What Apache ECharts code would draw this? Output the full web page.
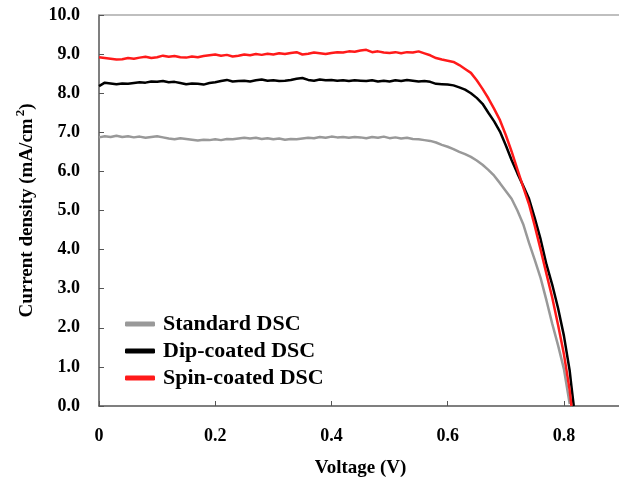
<!DOCTYPE html>
<html>
<head>
<meta charset="utf-8">
<script src="https://cdn.jsdelivr.net/npm/echarts@6/dist/echarts.min.js"></script>
<style>
  html, body { margin: 0; padding: 0; background: #fff; }
  #main { width: 619px; height: 478px; }
</style>
</head>
<body>
<div id="main"></div>
<script>
// voltage (V), shared by the three curves
const voltage = [
  0.00, 0.01, 0.02, 0.03, 0.04, 0.05, 0.06, 0.07, 0.08, 0.09,
  0.10, 0.11, 0.12, 0.13, 0.14, 0.15, 0.16, 0.17, 0.18, 0.19,
  0.20, 0.21, 0.22, 0.23, 0.24, 0.25, 0.26, 0.27, 0.28, 0.29,
  0.30, 0.31, 0.32, 0.33, 0.34, 0.35, 0.36, 0.37, 0.38, 0.39,
  0.40, 0.41, 0.42, 0.43, 0.44, 0.45, 0.46, 0.47, 0.48, 0.49,
  0.50, 0.51, 0.52, 0.53, 0.54, 0.55, 0.56, 0.57, 0.58, 0.59,
  0.60, 0.61, 0.62, 0.63, 0.64, 0.65, 0.66, 0.67, 0.68, 0.69,
  0.70, 0.71, 0.72, 0.73, 0.74, 0.75, 0.76, 0.77, 0.78, 0.79,
  0.80, 0.81, 0.813, 0.817
]

// current density (mA/cm2)
const standardDSC = [
  6.87, 6.90, 6.88, 6.91, 6.88, 6.90, 6.87, 6.89, 6.86, 6.88,
  6.90, 6.87, 6.84, 6.82, 6.85, 6.83, 6.81, 6.79, 6.81, 6.80,
  6.82, 6.80, 6.83, 6.82, 6.84, 6.86, 6.84, 6.86, 6.83, 6.85,
  6.82, 6.84, 6.81, 6.83, 6.82, 6.84, 6.86, 6.85, 6.88, 6.86,
  6.89, 6.87, 6.88, 6.86, 6.88, 6.87, 6.85, 6.88, 6.86, 6.89,
  6.85, 6.87, 6.84, 6.86, 6.83, 6.82, 6.80, 6.78, 6.74, 6.68,
  6.63, 6.57, 6.50, 6.44, 6.37, 6.28, 6.17, 6.04, 5.89, 5.70,
  5.50, 5.30, 5.00, 4.65, 4.17, 3.73, 3.27, 2.70, 2.10, 1.55,
  0.95, 0.05, null, null
]
const dipCoatedDSC = [
  8.18, 8.27, 8.25, 8.23, 8.25, 8.24, 8.26, 8.28, 8.27, 8.30,
  8.29, 8.31, 8.28, 8.29, 8.26, 8.23, 8.25, 8.24, 8.22, 8.26,
  8.28, 8.31, 8.34, 8.30, 8.31, 8.32, 8.30, 8.33, 8.35, 8.32,
  8.33, 8.31, 8.32, 8.34, 8.37, 8.39, 8.34, 8.32, 8.35, 8.33,
  8.34, 8.32, 8.33, 8.31, 8.33, 8.32, 8.31, 8.33, 8.30, 8.32,
  8.30, 8.33, 8.31, 8.34, 8.32, 8.30, 8.31, 8.29, 8.24, 8.23,
  8.22, 8.20, 8.15, 8.09, 8.00, 7.88, 7.73, 7.50, 7.28, 7.02,
  6.67, 6.29, 5.95, 5.63, 5.30, 4.80, 4.26, 3.62, 3.10, 2.50,
  1.80, 0.90, 0.50, 0.00
]
const spinCoatedDSC = [
  8.92, 8.90, 8.88, 8.86, 8.87, 8.90, 8.88, 8.91, 8.93, 8.90,
  8.92, 8.96, 8.93, 8.95, 8.92, 8.91, 8.94, 8.92, 8.95, 8.97,
  8.99, 8.96, 8.98, 8.94, 8.96, 8.99, 8.97, 9.00, 8.98, 9.01,
  8.99, 9.02, 9.00, 9.03, 9.05, 8.99, 9.01, 9.04, 9.02, 9.00,
  9.03, 9.05, 9.04, 9.07, 9.06, 9.09, 9.11, 9.05, 9.07, 9.04,
  9.03, 9.05, 9.02, 9.05, 9.04, 9.07, 9.02, 8.97, 8.90, 8.86,
  8.83, 8.80, 8.72, 8.62, 8.52, 8.33, 8.11, 7.87, 7.60, 7.31,
  6.93, 6.51, 6.05, 5.60, 5.16, 4.60, 4.00, 3.38, 2.77, 2.07,
  1.33, 0.40, 0.00, null
]

const seriesNames = ['Standard DSC', 'Dip-coated DSC', 'Spin-coated DSC']
const seriesColors = ['#999999', '#000000', '#ff1a1a']
const xTicks = { min: 0, max: 0.9, interval: 0.2 }
const yTicks = { min: 0, max: 10, interval: 1 }

const font = 'Liberation Serif'

function toPairs(values) {
  return voltage.map((v, i) => [v, values[i]])
}

const chart = echarts.init(document.getElementById('main'))
const curves = [standardDSC, dipCoatedDSC, spinCoatedDSC]

const option = {
  animation: false,
  grid: {
    left: 99,
    right: -3,
    top: 15,
    bottom: 72,
    outerBoundsMode: 'none',
  },
  legend: {
    orient: 'vertical',
    left: 120,
    top: 308,
    itemWidth: 30,
    itemHeight: 5,
    itemGap: 5,
    icon: 'roundRect',
    data: seriesNames,
    textStyle: {
      fontFamily: font,
      fontWeight: 'bold',
      fontSize: 22,
      color: '#000',
      padding: [0, 0, 0, 3],
    },
  },
  xAxis: [
    {
      type: 'value',
      min: xTicks.min,
      max: xTicks.max,
      interval: xTicks.interval,
      name: 'Voltage (V)',
      nameLocation: 'middle',
      nameGap: 53,
      nameTextStyle: {
        fontFamily: font,
        fontWeight: 'bold',
        fontSize: 19,
        color: '#000',
      },
      axisLine: { lineStyle: { color: '#555', width: 1.5 } },
      axisTick: { inside: true, length: 5, lineStyle: { color: '#555' } },
      axisLabel: {
        margin: 21,
        showMaxLabel: false,
        fontFamily: font,
        fontWeight: 'bold',
        fontSize: 18,
        color: '#000',
        formatter: v => (v === 0 ? '0' : v.toFixed(1)),
      },
      splitLine: { show: false },
    },
    {
      // top border line
      type: 'value',
      position: 'top',
      min: xTicks.min,
      max: xTicks.max,
      axisLine: { show: true, lineStyle: { color: '#aaa', width: 1.5 } },
      axisTick: { show: false },
      axisLabel: { show: false },
      splitLine: { show: false },
    },
  ],
  yAxis: {
    type: 'value',
    min: yTicks.min,
    max: yTicks.max,
    interval: yTicks.interval,
    name: 'Current density (mA/cm{sup|2})',
    nameLocation: 'middle',
    nameGap: 58,
    nameTextStyle: {
      fontFamily: font,
      fontWeight: 'bold',
      fontSize: 19,
      color: '#000',
      rich: {
        sup: {
          fontFamily: font,
          fontWeight: 'bold',
          fontSize: 13,
          color: '#000',
          padding: [0, 0, 14, 2],
        },
      },
    },
    axisLine: { show: true, lineStyle: { color: '#555', width: 1.5 } },
    axisTick: { inside: true, length: 5, lineStyle: { color: '#555' } },
    axisLabel: {
      margin: 19,
      fontFamily: font,
      fontWeight: 'bold',
      fontSize: 18,
      color: '#000',
      formatter: v => v.toFixed(1),
    },
    splitLine: { show: false },
  },
  series: curves.map((values, i) => ({
    name: seriesNames[i],
    type: 'line',
    data: toPairs(values),
    showSymbol: false,
    symbol: 'none',
    color: seriesColors[i],
    lineStyle: { width: 2.5, color: seriesColors[i] },
  })),
}

chart.setOption(option)
</script>
</body>
</html>
